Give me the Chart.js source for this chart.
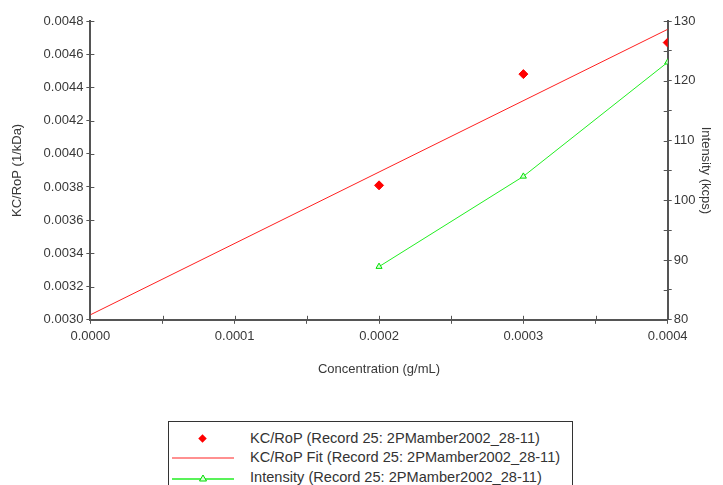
<!DOCTYPE html>
<html><head><meta charset="utf-8">
<script src="https://cdn.jsdelivr.net/npm/chart.js@4/dist/chart.umd.min.js"></script>
<style>
body{margin:0;background:#fff;font-family:"Liberation Sans",Arial,sans-serif;}
#wrap{position:relative;width:723px;height:385px;}
#legend{position:absolute;left:168px;top:421px;width:405px;height:80px;border:1px solid #333;box-sizing:border-box;font-size:14.6px;color:#333;padding-top:6px;}
.row{display:flex;align-items:center;height:19.5px;}
.mk{width:62px;margin-left:3px;margin-right:16px;height:12px;}
</style></head><body>
<div id="wrap"><canvas id="c" width="723" height="385"></canvas></div>
<div id="legend"></div>
<script>
const concentration = [0.0002, 0.0003, 0.0004];
const kcRop = [0.00381, 0.00448, 0.00467];
const fitX = [0.0000, 0.0004];
const fitY = [0.00303, 0.00475];
const intensity = [88.9, 104.0, 123.1];
const labels = ['KC/RoP (Record 25: 2PMamber2002_28-11)','KC/RoP Fit (Record 25: 2PMamber2002_28-11)','Intensity (Record 25: 2PMamber2002_28-11)'];

const axisColor = '#555';
const txt = '#383838';
const font = {family:'"Liberation Sans", Arial, sans-serif', size:13};

const innerTicks = {
  id:'innerTicks',
  afterDraw(chart){
    const ctx = chart.ctx, a = chart.chartArea;
    ctx.save(); ctx.strokeStyle = axisColor; ctx.lineWidth = 1;
    ['x','y','y1'].forEach(id=>{
      const s = chart.scales[id];
      s.ticks.forEach(t=>{
        const p = Math.round(s.getPixelForValue(t.value))+0.5;
        ctx.beginPath();
        if(id==='x'){ctx.moveTo(p,a.bottom);ctx.lineTo(p,a.bottom-4);}
        else if(id==='y'){ctx.moveTo(a.left,p);ctx.lineTo(a.left+4,p);}
        else {ctx.moveTo(a.right,p);ctx.lineTo(a.right-4,p);}
        ctx.stroke();
      });
    });
    ctx.restore();
  }
};

const grid = {display:true, drawOnChartArea:false, drawTicks:true, tickLength:4, tickColor:axisColor, tickWidth:1};
const border = {display:true, color:axisColor, width:2};

new Chart(document.getElementById('c'), {
  type:'scatter',
  data:{datasets:[
    {label:labels[0], data:concentration.map((x,i)=>({x, y:kcRop[i]})), yAxisID:'y', showLine:false,
     pointStyle:'rectRot', pointRadius:4.5, backgroundColor:'#ff0000', borderColor:'#ff0000', borderWidth:1},
    {label:labels[1], data:fitX.map((x,i)=>({x, y:fitY[i]})), yAxisID:'y', showLine:true,
     pointRadius:0, borderColor:'#ff2020', borderWidth:1},
    {label:labels[2], data:concentration.map((x,i)=>({x, y:intensity[i]})), yAxisID:'y1', showLine:true,
     pointStyle:'triangle', pointRadius:3.5, pointBackgroundColor:'#d8ffd8', pointBorderColor:'#00dd00', pointBorderWidth:1,
     borderColor:'#22ee22', borderWidth:1}
  ]},
  options:{
    responsive:false, animation:false, devicePixelRatio:1,
    layout:{padding:{top:21,left:10,right:4,bottom:4}},
    plugins:{legend:{display:false}, tooltip:{enabled:false}},
    scales:{
      x:{type:'linear', min:0, max:0.0004, grid, border,
         ticks:{stepSize:0.00005, color:txt, font, padding:5, maxRotation:0,
           callback:v=>Math.round(v/0.00005)%2===0 ? v.toFixed(4) : ''},
         title:{display:true, text:'Concentration (g/mL)', color:txt, font, padding:{top:12}}},
      y:{type:'linear', position:'left', min:0.0030, max:0.0048, grid, border,
         ticks:{stepSize:0.0001, color:txt, font, padding:3,
           callback:v=>Math.round(v/0.0001)%2===0 ? v.toFixed(4) : ''},
         title:{display:true, text:'KC/RoP (1/kDa)', color:txt, font, padding:{top:0,bottom:15}}},
      y1:{type:'linear', position:'right', min:80, max:130, grid, border,
         ticks:{stepSize:5, color:txt, font, padding:2,
           callback:v=>Math.round(v)%10===0 ? String(Math.round(v)) : ''},
         title:{display:true, text:'Intensity (kcps)', color:txt, font, padding:{top:6,bottom:0}}}
    }
  },
  plugins:[innerTicks]
});
(function(){
  const lg = document.getElementById('legend');
  const svgs = [
    '<svg width="62" height="12"><rect x="27.5" y="2.5" width="6" height="6" transform="rotate(45 30.5 5.5)" fill="#f00"/></svg>',
    '<svg width="62" height="12"><line x1="0" y1="6" x2="62" y2="6" stroke="#f22" stroke-width="1.2"/></svg>',
    '<svg width="62" height="12"><line x1="0" y1="7" x2="62" y2="7" stroke="#2e2" stroke-width="1.5"/><polygon points="31,3 34.5,9 27.5,9" fill="#d8ffd8" stroke="#0d0"/></svg>'
  ];
  labels.forEach((l,i)=>{
    const r = document.createElement('div'); r.className='row';
    r.innerHTML = '<div class="mk">'+svgs[i]+'</div><span>'+l+'</span>';
    lg.appendChild(r);
  });
})();
</script>
</body></html>
